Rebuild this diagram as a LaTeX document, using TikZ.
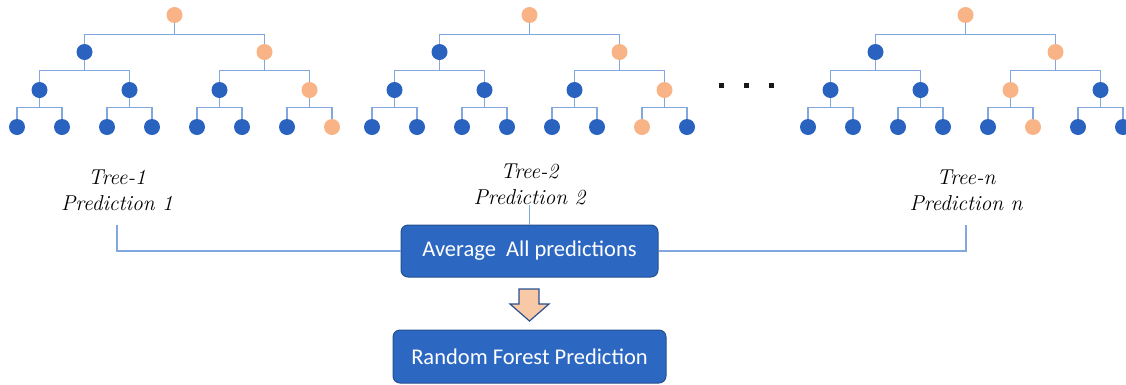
\documentclass[tikz,border=0pt]{standalone}
\usepackage{fontspec}
\newfontfamily\boxfont{Carlito}
\usetikzlibrary{calc}
\definecolor{nblue}{HTML}{2A63BF}
\definecolor{norange}{HTML}{F8B486}
\definecolor{lblue}{HTML}{82A6DE}
\definecolor{bfill}{HTML}{2C68C2}
\definecolor{bdraw}{HTML}{24508F}
\definecolor{afill}{HTML}{F8C9A6}
\definecolor{adraw}{HTML}{2B4F8F}
\tikzset{
  tnode/.style={circle, minimum size=16pt, inner sep=0pt, draw=none, fill=nblue},
  link/.style={draw=lblue, line width=1.4pt},
  lbl/.style={font=\fontsize{21.5}{26}\selectfont\itshape, align=center, inner sep=0pt},
  bbox/.style={rounded corners=7pt, fill=bfill, draw=bdraw, line width=1pt, text=white,
    font=\boxfont\fontsize{22.5}{27}\selectfont, inner sep=0pt},
  dotsq/.style={fill=black!90, draw=none, minimum size=5pt, inner sep=0pt}
}
\newcommand\mytree[4]{%
  \node[tnode, fill=norange] (#1r) at ({#2+157.5},15) {};
  \foreach \k in {1,2} {
    \ifnum\k=2 \def\fc{norange}\else\def\fc{nblue}\fi
    \node[tnode, fill=\fc] (#1a\k) at ({#2+67.5+180*(\k-1)},52) {};
    \draw[link] (#1r.south) -- ++(0,11) -| (#1a\k.north);
  }
  \foreach \j in {1,...,4} {
    \ifnum\j=#3 \def\fc{norange}\else\def\fc{nblue}\fi
    \pgfmathtruncatemacro\pa{int((\j+1)/2)}
    \node[tnode, fill=\fc] (#1b\j) at ({#2+22.5+90*(\j-1)},90) {};
    \draw[link] (#1a\pa.south) -- ++(0,10) -| (#1b\j.north);
  }
  \foreach \i in {1,...,8} {
    \ifnum\i=#4 \def\fc{norange}\else\def\fc{nblue}\fi
    \pgfmathtruncatemacro\pb{int((\i+1)/2)}
    \node[tnode, fill=\fc] (#1c\i) at ({#2+45*(\i-1)},127) {};
    \draw[link] (#1b\pb.south) -- ++(0,9) -| (#1c\i.north);
  }
}
\begin{document}
\begin{tikzpicture}[x=1pt, y=-1pt]
\useasboundingbox (0,0) rectangle (1126,384);
\mytree{ta}{17}{4}{8}
\mytree{tb}{372}{4}{7}
\mytree{tc}{808}{3}{6}
% dots
\node[dotsq] (d1) at (721,85) {};
\node[dotsq] (d2) at (746,85) {};
\node[dotsq] (d3) at (771,85) {};
% labels
\node[lbl] (lab1) at (117,190) {Tree-1\\Prediction 1};
\node[lbl] (lab2) at (529.5,184.5) {Tree-2\\Prediction 2};
\node[lbl] (lab3) at (966,190) {Tree-n\\Prediction n};
% boxes
\node[bbox, minimum width=257pt, minimum height=52pt] (avg) at (529.5,251) {Average~~All predictions};
\node[bbox, minimum width=273pt, minimum height=53pt] (rf) at (529.5,356.5) {Random Forest Prediction};
% connectors
\coordinate (c1) at (117,225);
\coordinate (c3) at (966,225);
\draw[link] (c1) |- (avg.west);
\draw[link] (c3) |- (avg.east);
\draw[link] (lab2.south) -- (lab2.south |- avg.north);
% block arrow
\draw[fill=afill, draw=adraw, line width=1.2pt, line join=miter]
  (519,289) -- (539,289) -- (539,304) -- (549,304) -- (529.5,321) -- (510,304) -- (519,304) -- cycle;
\end{tikzpicture}
\end{document}
